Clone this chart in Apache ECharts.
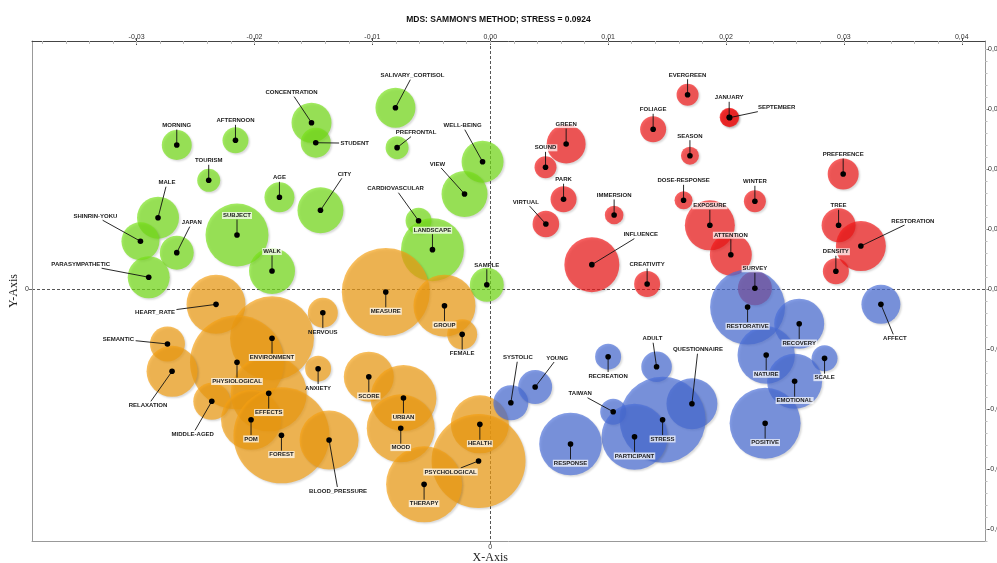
<!DOCTYPE html>
<html><head><meta charset="utf-8">
<script src="https://cdn.jsdelivr.net/npm/echarts@6/dist/echarts.min.js"></script>
<style>html,body{margin:0;padding:0;background:#fff;overflow:hidden}#c{width:997px;height:563px}</style>
</head><body><div id="c"></div>
<script>
// ---------------- DATA ----------------
const chartTitle = "MDS: SAMMON'S METHOD; STRESS = 0.0924";
const clusterNames = ['green', 'red', 'orange', 'blue'];

const terms = [
 'CONCENTRATION','STUDENT','SALIVARY_CORTISOL','MORNING','AFTERNOON','TOURISM','PREFRONTAL','WELL-BEING','VIEW','AGE',
 'CITY','CARDIOVASCULAR','LANDSCAPE','MALE','SHINRIN-YOKU','JAPAN','SUBJECT','WALK','PARASYMPATHETIC','SAMPLE',
 'EVERGREEN','JANUARY','SEPTEMBER','FOLIAGE','GREEN','SEASON','SOUND','PREFERENCE','PARK','DOSE-RESPONSE',
 'WINTER','IMMERSION','VIRTUAL','EXPOSURE','TREE','RESTORATION','INFLUENCE','ATTENTION','DENSITY','CREATIVITY','SURVEY',
 'MEASURE','GROUP','FEMALE','HEART_RATE','NERVOUS','SEMANTIC','ENVIRONMENT','PHYSIOLOGICAL','ANXIETY','RELAXATION',
 'SCORE','EFFECTS','URBAN','MIDDLE-AGED','POM','FOREST','BLOOD_PRESSURE','HEALTH','MOOD','PSYCHOLOGICAL','THERAPY',
 'RESTORATIVE','AFFECT','RECOVERY','SYSTOLIC','YOUNG','RECREATION','ADULT','QUESTIONNAIRE','NATURE','SCALE',
 'EMOTIONAL','TAIWAN','STRESS','PARTICIPANT','RESPONSE','POSITIVE'
];
const xVals = [
 -0.01516,-0.01480,-0.00804,-0.02659,-0.02161,-0.02388,-0.00790,-0.00065,-0.00218,-0.01788,
 -0.01440,-0.00608,-0.00490,-0.02818,-0.02967,-0.02659,-0.02148,-0.01851,-0.02897,-0.00029,
 0.01674,0.02027,0.02031,0.01382,0.00644,0.01694,0.00469,0.02994,0.00622,0.01640,
 0.02245,0.01051,0.00472,0.01863,0.02955,0.03144,0.00862,0.02041,0.02932,0.01331,0.02245,
 -0.00886,-0.00388,-0.00238,-0.02326,-0.01420,-0.02738,-0.01851,-0.02148,-0.01460,-0.02699,
 -0.01030,-0.01879,-0.00736,-0.02362,-0.02029,-0.01771,-0.01367,-0.00088,-0.00759,-0.00099,-0.00561,
 0.02183,0.03314,0.02621,0.00175,0.00381,0.01000,0.01411,0.01711,0.02341,0.02836,
 0.02582,0.01043,0.01462,0.01224,0.00681,0.02332
];
const yVals = [
 0.01386,0.01219,0.01511,0.01200,0.01239,0.00906,0.01178,0.01061,0.00792,0.00764,
 0.00656,0.00569,0.00328,0.00594,0.00398,0.00303,0.00450,0.00150,0.00098,0.00036,
 0.01619,0.01431,0.01428,0.01331,0.01208,0.01111,0.01014,0.00958,0.00748,0.00739,
 0.00731,0.00617,0.00542,0.00531,0.00531,0.00358,0.00203,0.00286,0.00148,0.00042,0.00006,
 -0.00025,-0.00139,-0.00378,-0.00128,-0.00198,-0.00458,-0.00411,-0.00611,-0.00664,-0.00686,
 -0.00731,-0.00869,-0.00908,-0.00936,-0.01089,-0.01219,-0.01258,-0.01128,-0.01161,-0.01433,-0.01628,
 -0.00150,-0.00128,-0.00289,-0.00948,-0.00817,-0.00564,-0.00648,-0.00956,-0.00550,-0.00578,
 -0.00769,-0.01023,-0.01089,-0.01231,-0.01292,-0.01119
];
const weights = [
 20,15,20,15,13,11.5,11.5,21,23,15,
 23,13,31.5,21,19,17,31.5,23,21,17,
 11,9.5,9.5,13,19.5,9,11,15.5,13,9,
 11,9.3,13.3,25,17,25,27.5,21,13,13,17,
 44,31,15,29.5,15,17.5,42,47,13,25.5,
 25,38,33,18.5,30,48,29.5,29,34,47,38,
 37.5,19.5,25,17.5,17,13,15.3,25.5,28.7,13,
 27.5,13,43,33,31.3,35.5
];
const clusters = [
 0,0,0,0,0,0,0,0,0,0, 0,0,0,0,0,0,0,0,0,0,
 1,1,1,1,1,1,1,1,1,1, 1,1,1,1,1,1,1,1,1,1,1,
 2,2,2,2,2,2,2,2,2,2, 2,2,2,2,2,2,2,2,2,2,2,
 3,3,3,3,3,3,3,3,3,3, 3,3,3,3,3,3
];
const xTickValues = [-0.03,-0.02,-0.01,0,0.01,0.02,0.03,0.04];
const yTickValues = [-0.02,-0.015,-0.01,-0.005,0,0.005,0.01,0.015,0.02];

// ---------------- LAYOUT / STYLE ----------------
const colors = ['rgba(118,226,24,0.85)','rgba(243,22,22,0.85)','rgba(245,160,18,0.85)','rgba(74,110,217,0.85)'];
const labelOffsets = {
 'CONCENTRATION':[-20,-30],'STUDENT':[39,0.5],'SALIVARY_CORTISOL':[17,-32],'PREFRONTAL':[19,-15],
 'WELL-BEING':[-20,-36],'VIEW':[-27,-30],'CITY':[24,-36],'CARDIOVASCULAR':[-23,-32],'MALE':[9,-35],
 'SHINRIN-YOKU':[-45,-25],'JAPAN':[15,-30],'PARASYMPATHETIC':[-68,-13],'SEPTEMBER':[47,-10],
 'VIRTUAL':[-20,-22],'RESTORATION':[52,-25],'INFLUENCE':[49,-30],'HEART_RATE':[-61,8],
 'SEMANTIC':[-49,-5],'RELAXATION':[-24,34],'MIDDLE-AGED':[-19,33],'BLOOD_PRESSURE':[9,51],
 'PSYCHOLOGICAL':[-28,11],'AFFECT':[14,34],'SYSTOLIC':[7,-45],'YOUNG':[22,-29],'ADULT':[-4,-28],
 'QUESTIONNAIRE':[6,-54],'TAIWAN':[-33,-18]
};
const boxed = new Set(['LANDSCAPE','SUBJECT','WALK','GREEN','SOUND','EXPOSURE','ATTENTION','DENSITY','SURVEY',
 'MEASURE','GROUP','ENVIRONMENT','PHYSIOLOGICAL','SCORE','EFFECTS','URBAN','POM','FOREST','HEALTH','MOOD',
 'PSYCHOLOGICAL','THERAPY','RESTORATIVE','RECOVERY','NATURE','SCALE','EMOTIONAL','STRESS','PARTICIPANT',
 'RESPONSE','POSITIVE']);
const labelFont = 'bold 6px "Liberation Sans", Arial, sans-serif';
const mctx = document.createElement('canvas').getContext('2d');
mctx.font = labelFont;

function offsetOf(i) {
  const t = terms[i];
  if (labelOffsets[t]) return labelOffsets[t];
  return clusters[i] < 2 ? [0, -19.5] : [0, 19.3];
}

const X_MIN = -0.03887, X_MAX = 0.04197, Y_MIN = -0.021, Y_MAX = 0.020667;
const minorX = []; for (let k = -19; k <= 20; k++) minorX.push(Math.round(k * 2) / 1000);
const minorY = []; for (let k = -21; k <= 20; k++) minorY.push(k / 1000);
const fmt = (v, d) => (Math.abs(v) < 1e-9 ? 0 : v).toFixed(d).replace('.', ',');

const pointData = terms.map((t, i) => [xVals[i], yVals[i], i]);

const bubbleSeries = clusterNames.map((name, c) => ({
  type: 'scatter', name, xAxisIndex: 0, yAxisIndex: 0, z: 2, silent: true,
  data: terms.map((t, i) => i).filter(i => clusters[i] === c).map(i => [xVals[i], yVals[i], weights[i]]),
  symbol: 'circle',
  symbolSize: v => v[2] * 2,
  itemStyle: { color: colors[c], shadowBlur: 2, shadowOffsetX: 1.5, shadowOffsetY: 1.5, shadowColor: 'rgba(0,0,0,0.22)' },
  emphasis: { disabled: true }
}));

function labelGeom(i, p) {
  const off = offsetOf(i);
  const cx = p[0] + off[0], cy = p[1] + off[1];
  const w = mctx.measureText(terms[i]).width;
  const hw = w / 2 + 1.5, hh = 4;
  const dx = p[0] - cx, dy = p[1] - cy;
  let t = Math.min(dx !== 0 ? hw / Math.abs(dx) : Infinity, dy !== 0 ? hh / Math.abs(dy) : Infinity);
  return { cx, cy, ex: cx + t * dx, ey: cy + t * dy, t };
}

const leaderSeries = {
  type: 'custom', xAxisIndex: 0, yAxisIndex: 0, z: 5, silent: true, clip: false,
  data: pointData,
  renderItem: (params, api) => {
    const i = api.value(2);
    const p = api.coord([api.value(0), api.value(1)]);
    const g = labelGeom(i, p);
    const children = [];
    if (g.t < 1) children.push({ type: 'line', shape: { x1: p[0], y1: p[1], x2: g.ex, y2: g.ey }, style: { stroke: '#111', lineWidth: 0.9 } });
    children.push({ type: 'circle', shape: { cx: p[0], cy: p[1], r: 2.8 }, style: { fill: '#000' } });
    return { type: 'group', children };
  }
};
const labelSeries = {
  type: 'custom', xAxisIndex: 0, yAxisIndex: 0, z: 6, silent: true, clip: false,
  data: pointData,
  renderItem: (params, api) => {
    const i = api.value(2);
    const p = api.coord([api.value(0), api.value(1)]);
    const g = labelGeom(i, p);
    const st = { text: terms[i], x: g.cx, y: g.cy, align: 'center', verticalAlign: 'middle', font: labelFont, fill: '#1a1a1a' };
    if (boxed.has(terms[i])) { st.backgroundColor = 'rgba(255,255,255,0.72)'; st.padding = [1, 1, 0, 1]; }
    return { type: 'text', style: st };
  }
};

const chart = echarts.init(document.getElementById('c'), null, { renderer: 'canvas' });
chart.setOption({
  animation: false,
  backgroundColor: '#fff',
  title: { text: chartTitle, left: 'center', top: 10, textStyle: { fontSize: 8.5, fontWeight: 'bold', color: '#111', fontFamily: 'Liberation Sans, Arial, sans-serif' } },
  grid: { left: 32, right: 12, top: 41, bottom: 22, containLabel: false, outerBoundsMode: 'none' },
  xAxis: [
    { type: 'value', position: 'top', min: X_MIN, max: X_MAX,
      axisLine: { show: true, onZero: false, lineStyle: { color: '#444', width: 1 } },
      axisTick: { show: true, customValues: xTickValues, length: 4, inside: true, lineStyle: { color: '#444' } },
      axisLabel: { customValues: xTickValues, formatter: v => fmt(v, 2), fontSize: 7, color: '#333', margin: 0, fontFamily: 'Liberation Sans, Arial, sans-serif' },
      splitLine: { show: false } },
    { type: 'value', position: 'top', min: X_MIN, max: X_MAX,
      axisLine: { show: false, onZero: false },
      axisTick: { show: true, customValues: xTickValues, length: 3, inside: false, lineStyle: { color: '#444' } },
      axisLabel: { show: false }, splitLine: { show: false } },
    { type: 'value', position: 'top', min: X_MIN, max: X_MAX,
      axisLine: { show: false, onZero: false },
      axisTick: { show: true, customValues: minorX, length: 3, inside: true, lineStyle: { color: '#bbb' } },
      axisLabel: { show: false }, splitLine: { show: false } },
    { type: 'value', position: 'bottom', min: X_MIN, max: X_MAX,
      axisLine: { show: true, onZero: false, lineStyle: { color: '#999' } },
      axisTick: { show: true, customValues: [0], length: 3, lineStyle: { color: '#666' } },
      axisLabel: { customValues: [0], formatter: () => '0\n{n|X-Axis}', fontSize: 7, color: '#333', margin: 2, lineHeight: 8,
        rich: { n: { fontSize: 12, fontFamily: '"Liberation Serif", "DejaVu Serif", serif', color: '#222', lineHeight: 13 } } },
      splitLine: { show: true, lineStyle: { color: '#555', type: [3, 2], width: 1 } } }
  ],
  yAxis: [
    { type: 'value', position: 'right', min: Y_MIN, max: Y_MAX,
      axisLine: { show: true, onZero: false, lineStyle: { color: '#999', width: 1 } },
      axisTick: { show: true, customValues: yTickValues, length: 4, lineStyle: { color: '#555' } },
      axisLabel: { customValues: yTickValues, formatter: v => fmt(v, 3), fontSize: 7, color: '#333', margin: 3 },
      splitLine: { show: false } },
    { type: 'value', position: 'right', min: Y_MIN, max: Y_MAX,
      axisLine: { show: false, onZero: false },
      axisTick: { show: true, customValues: minorY, length: 2.5, lineStyle: { color: '#bbb' } },
      axisLabel: { show: false }, splitLine: { show: false } },
    { type: 'value', position: 'left', min: Y_MIN, max: Y_MAX,
      name: 'Y-Axis', nameLocation: 'middle', nameGap: 12, nameRotate: 90, nameMoveOverlap: false,
      nameTextStyle: { fontSize: 12, fontFamily: '"Liberation Serif", "DejaVu Serif", serif', color: '#222' },
      axisLine: { show: true, onZero: false, lineStyle: { color: '#999' } },
      axisTick: { show: true, customValues: [0], length: 3, lineStyle: { color: '#666' } },
      axisLabel: { customValues: [0], formatter: () => '0', fontSize: 7, color: '#333', margin: 3 },
      splitLine: { show: true, lineStyle: { color: '#555', type: [3, 2], width: 1 } } }
  ],
  series: [...bubbleSeries, leaderSeries, labelSeries]
});
</script>
</body></html>
